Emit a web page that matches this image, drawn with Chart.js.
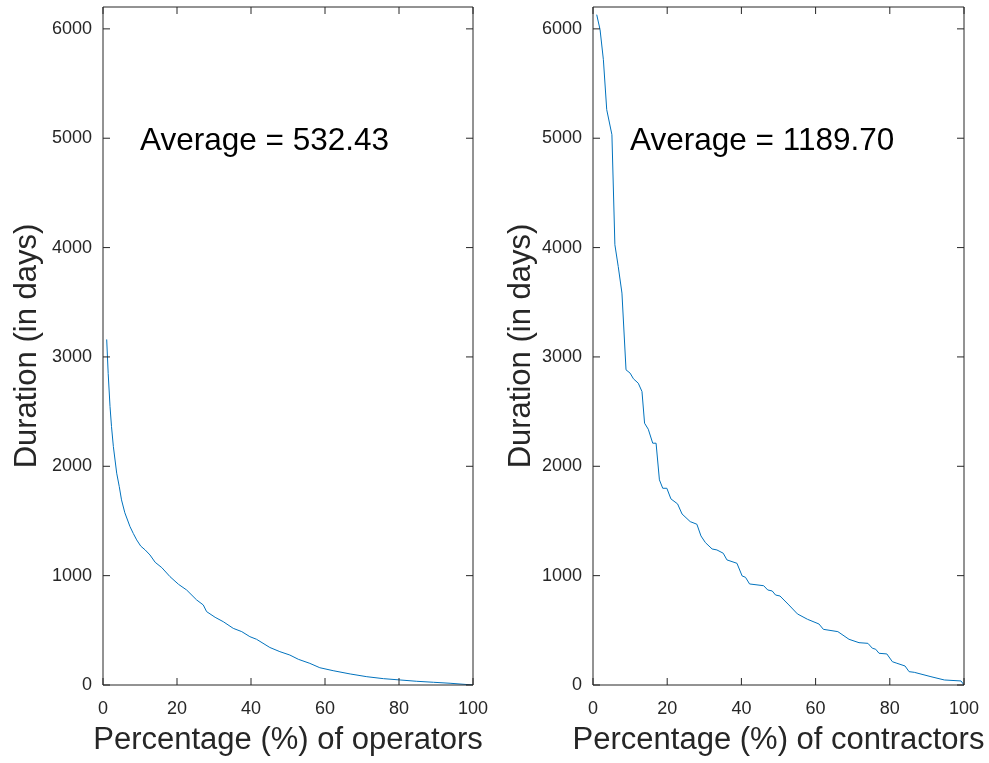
<!DOCTYPE html>
<html>
<head>
<meta charset="utf-8">
<script src="https://cdn.jsdelivr.net/npm/chart.js@4/dist/chart.umd.min.js"></script>
<style>
	body { margin: 0; background: #fff; }
	#wrap { position: relative; width: 989px; height: 763px; }
	canvas { position: absolute; top: 0; }
	#chartOps { left: 0; }
	#chartCon { left: 494px; }
</style>
</head>
<body>
<div id="wrap">
	<canvas id="chartOps" width="494" height="763"></canvas>
	<canvas id="chartCon" width="495" height="763"></canvas>
</div>
<script>
// operators: percentage vs duration
var opsPct = [1, 1.4, 1.9, 2.3, 2.8, 3.7, 4.4, 5, 5.9, 7.3, 8.2, 9.1, 10.2, 11.4, 12.7, 14.1, 15.9, 18.1, 20.4, 22.6, 25.3, 27.1, 28, 30.3, 32.5, 35.2, 37.5, 39.7, 41.5, 45.1, 47.8, 50.5, 52.8, 55.9, 58.6, 62.2, 66.8, 71.3, 75.8, 80.3, 84.8, 89.3, 93.8, 100];
var opsDays = [3160, 2850, 2546, 2363, 2180, 1937, 1814, 1693, 1575, 1448, 1385, 1327, 1270, 1235, 1189, 1122, 1073, 991, 921, 869, 778, 732, 671, 619, 579, 518, 488, 442, 418, 343, 305, 274, 235, 198, 158, 131, 101, 76, 58, 46, 34, 25, 16, 0];
var opsAvg = "532.43";

// contractors: percentage vs duration
var conPct = [1, 1.9, 2.8, 3.7, 5.1, 5.9, 6.8, 7.8, 8.9, 10, 10.9, 12.2, 13.2, 13.9, 14.9, 16.1, 17, 17.9, 18.8, 19.9, 21, 22.8, 24, 26.2, 28, 29.1, 30.3, 32.1, 33.4, 35.1, 36.1, 38.8, 40.2, 41.1, 42.2, 46, 47.1, 48.3, 49.2, 50.4, 52.8, 55.1, 57.8, 60.9, 62.1, 66, 69, 71.7, 74.1, 75.3, 76.2, 77.1, 79.2, 80.7, 81.9, 84.1, 85.2, 86.6, 91.1, 94.7, 99.2, 100];
var conDays = [6130, 5993, 5718, 5261, 5032, 4026, 3827, 3584, 2882, 2852, 2800, 2760, 2684, 2394, 2339, 2211, 2211, 1876, 1799, 1799, 1702, 1656, 1564, 1494, 1470, 1363, 1302, 1244, 1235, 1205, 1144, 1113, 997, 985, 924, 908, 869, 860, 823, 814, 732, 650, 601, 558, 509, 488, 418, 387, 381, 336, 327, 290, 284, 213, 199, 174, 122, 116, 76, 46, 37, 0];
var conAvg = "1189.70";

var xTicks = [0, 20, 40, 60, 80, 100];
var yTicks = [0, 1000, 2000, 3000, 4000, 5000, 6000];

var axisColor = '#262626';
var fontFam = '"Liberation Sans", Arial, Helvetica, sans-serif';

// box round the plot area with inward ticks on all four sides,
// plus the x title and the average note
var boxPlugin = {
	id: 'boxAxes',
	afterDraw: function(chart) {
		var ctx = chart.ctx;
		var a = chart.chartArea;
		var xs = chart.scales.x, ys = chart.scales.y;
		var len = 7;
		ctx.save();
		ctx.strokeStyle = axisColor;
		ctx.lineWidth = 1;
		ctx.beginPath();
		ctx.rect(a.left, a.top, a.right - a.left, a.bottom - a.top);
		xs.ticks.forEach(function(t) {
			var px = xs.getPixelForValue(t.value);
			ctx.moveTo(px, a.bottom); ctx.lineTo(px, a.bottom - len);
			ctx.moveTo(px, a.top); ctx.lineTo(px, a.top + len);
		});
		ys.ticks.forEach(function(t) {
			var py = ys.getPixelForValue(t.value);
			ctx.moveTo(a.left, py); ctx.lineTo(a.left + len, py);
			ctx.moveTo(a.right, py); ctx.lineTo(a.right - len, py);
		});
		ctx.stroke();

		var opts = chart.options.plugins.boxAxes;
		// x title, drawn here so it isn't squeezed to the axis width
		ctx.fillStyle = axisColor;
		ctx.font = '31px ' + fontFam;
		ctx.textAlign = 'center';
		ctx.textBaseline = 'middle';
		ctx.fillText(opts.xTitle, (a.left + a.right) / 2, 740);

		// average annotation, placed in data units
		ctx.fillStyle = '#000';
		ctx.font = '31.5px ' + fontFam;
		ctx.textAlign = 'left';
		ctx.fillText(opts.note, xs.getPixelForValue(10), ys.getPixelForValue(5000) + 3);
		ctx.restore();
	}
};

function noPad(s) {
	s.paddingLeft = 0; s.paddingRight = 0;
	s.paddingTop = 0; s.paddingBottom = 0;
}

function defineChart(id, xs, ys, avg, xTitle, yWidth, padRight) {
	var pts = xs.map(function(v, i) { return {x: v, y: ys[i]}; });
	return new Chart(document.getElementById(id), {
		type: 'line',
		data: {
			datasets: [{
				data: pts,
				borderColor: '#0072BD',
				borderWidth: 1,
				pointRadius: 0,
				tension: 0,
				fill: false
			}]
		},
		options: {
			responsive: false,
			animation: false,
			layout: { padding: { top: 7, right: padRight, left: 0, bottom: 0 } },
			plugins: {
				legend: { display: false },
				tooltip: { enabled: false },
				boxAxes: { note: 'Average = ' + avg, xTitle: xTitle }
			},
			scales: {
				x: {
					type: 'linear',
					min: 0, max: 100,
					afterBuildTicks: function(s) { s.ticks = xTicks.map(function(v) { return {value: v}; }); },
					afterFit: function(s) { s.height = 78; noPad(s); },
					grid: { display: false, drawTicks: false },
					border: { display: false },
					ticks: { color: axisColor, padding: 13, maxRotation: 0, font: { family: fontFam, size: 18 },
						callback: function(v) { return String(v); } }
				},
				y: {
					min: 0, max: 6200,
					afterBuildTicks: function(s) { s.ticks = yTicks.map(function(v) { return {value: v}; }); },
					afterFit: function(s) { s.width = yWidth; noPad(s); },
					grid: { display: false, drawTicks: false },
					border: { display: false },
					ticks: { color: axisColor, padding: 11, font: { family: fontFam, size: 18 },
						callback: function(v) { return String(v); } },
					title: { display: true, text: 'Duration (in days)', color: axisColor, padding: { top: 12, bottom: 0 }, font: { family: fontFam, size: 31, lineHeight: 1 } }
				}
			}
		},
		plugins: [boxPlugin]
	});
}

defineChart('chartOps', opsPct, opsDays, opsAvg, 'Percentage (%) of operators', 103, 21);
defineChart('chartCon', conPct, conDays, conAvg, 'Percentage (%) of contractors', 99, 25);
</script>
</body>
</html>
